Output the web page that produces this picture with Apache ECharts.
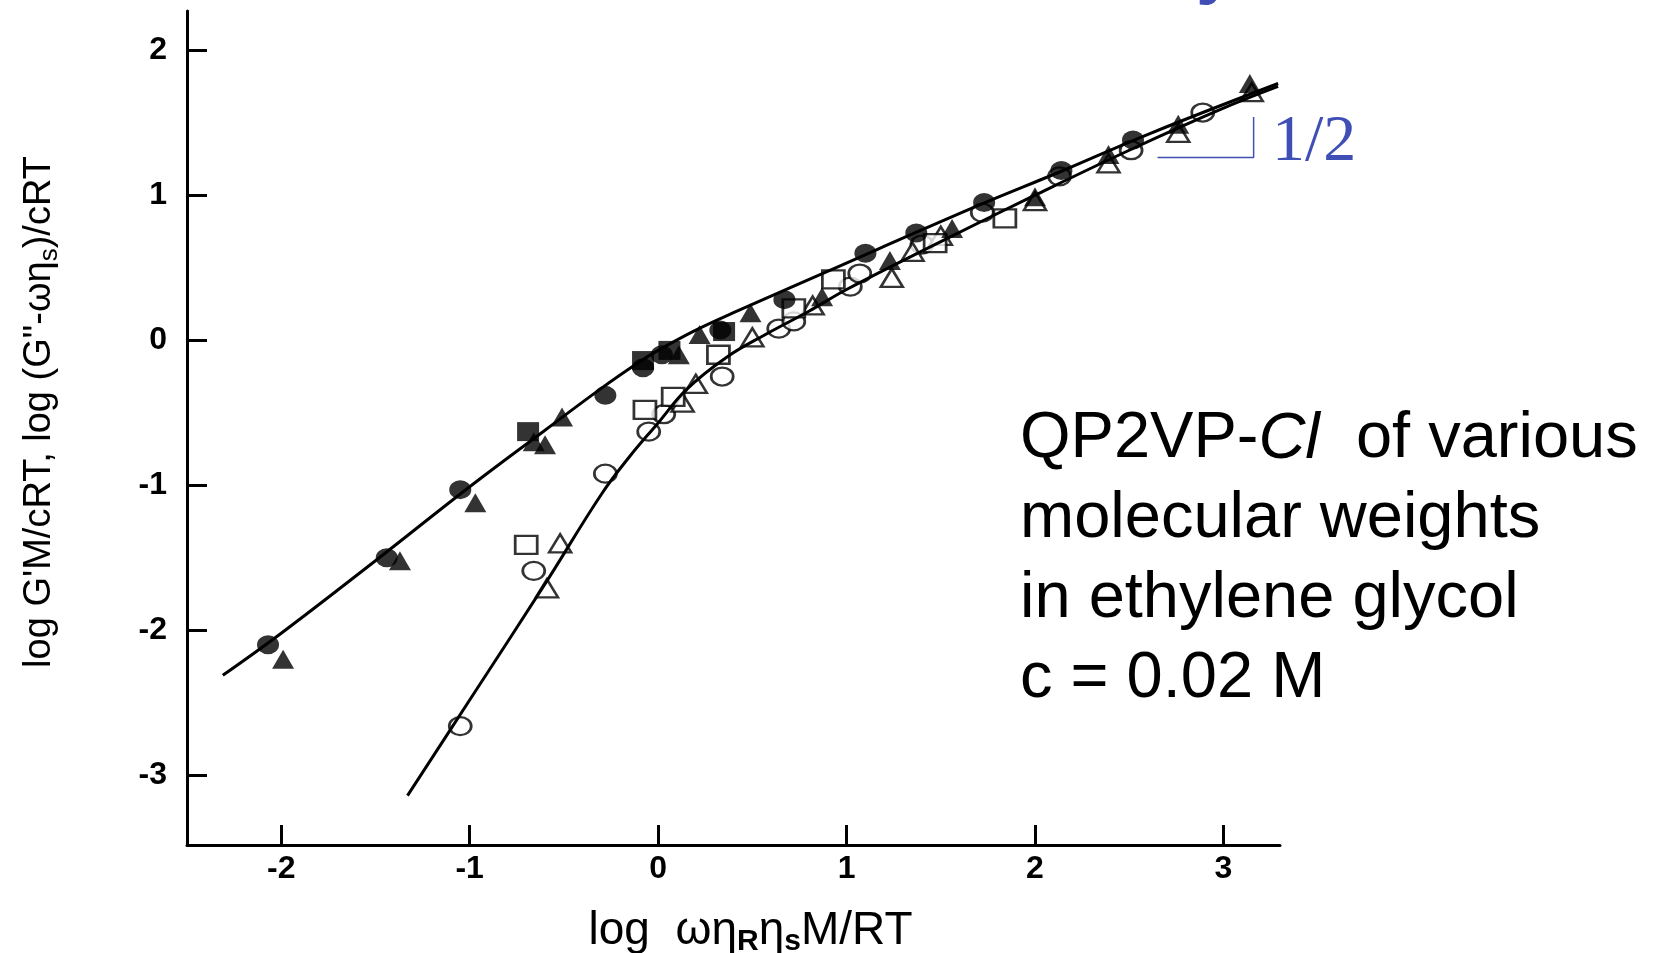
<!DOCTYPE html>
<html>
<head>
<meta charset="utf-8">
<script src="https://cdn.jsdelivr.net/npm/echarts@6.0.0/dist/echarts.min.js"></script>
<style>
  html, body { margin: 0; padding: 0; background: #fff; }
  #main { width: 1662px; height: 953px; }
</style>
</head>
<body>
<div id="main"></div>
<script>
// tick positions
var xTicks = [-2, -1, 0, 1, 2, 3];
var yTicks = [-3, -2, -1, 0, 1, 2];

// fitted curves: upper = G'' , lower = G'
var upperCurve = [[-2.31, -2.31], [-2.0, -2.02], [-1.5, -1.52], [-1.0, -1.01], [-0.6, -0.62], [-0.3, -0.33],
    [-0.1, -0.15], [0.0, -0.07], [0.2, 0.07], [0.4, 0.19], [0.75, 0.39], [1.17, 0.63], [1.7, 0.93],
    [2.13, 1.16], [2.6, 1.42], [3.29, 1.77]];
var lowerCurve = [[-1.33, -3.14], [-1.0, -2.48], [-0.6, -1.68], [-0.3, -1.06], [-0.15, -0.80], [0.0, -0.57],
    [0.15, -0.34], [0.36, -0.12], [0.57, 0.04], [0.8, 0.2], [1.0, 0.35], [1.5, 0.68], [2.0, 1.0],
    [2.5, 1.31], [3.0, 1.6], [3.29, 1.75]];

// measured points, filled = G'', open = G'
var filledCircles = [[-2.07, -2.10], [-1.44, -1.50], [-1.05, -1.03], [-0.28, -0.38], [-0.08, -0.19], [0.02, -0.10],
    [0.33, 0.07], [0.67, 0.28], [1.10, 0.60], [1.37, 0.74], [1.73, 0.95], [2.14, 1.17], [2.52, 1.38]];
var filledTriangles = [[-1.99, -2.20], [-1.37, -1.52], [-0.97, -1.12], [-0.66, -0.70], [-0.60, -0.72], [-0.51, -0.53],
    [0.11, -0.10], [0.22, 0.04], [0.49, 0.19], [0.87, 0.30], [1.23, 0.55], [1.56, 0.77], [2.00, 0.99],
    [2.39, 1.28], [2.76, 1.49], [3.14, 1.77]];
var filledSquares = [[-0.69, -0.63], [-0.08, -0.14], [0.06, -0.07], [0.35, 0.06]];
var openCircles = [[-1.05, -2.66], [-0.66, -1.59], [-0.28, -0.92], [-0.05, -0.63], [0.03, -0.51], [0.34, -0.25],
    [0.64, 0.08], [0.72, 0.13], [1.02, 0.37], [1.07, 0.46], [1.40, 0.66], [1.72, 0.88], [2.13, 1.13],
    [2.51, 1.31], [2.89, 1.57]];
var openTriangles = [[-0.59, -1.71], [-0.52, -1.40], [0.13, -0.43], [0.20, -0.30], [0.50, 0.02], [0.82, 0.24],
    [1.24, 0.43], [1.35, 0.61], [1.50, 0.72], [2.00, 0.96], [2.39, 1.22], [2.76, 1.43], [3.15, 1.71]];
var openSquares = [[-0.70, -1.41], [-0.07, -0.48], [0.08, -0.39], [0.32, -0.10], [0.72, 0.22], [0.93, 0.42],
    [1.47, 0.67], [1.84, 0.84]];

// slope 1/2 guide
var slopeGuide = [[2.65, 1.26], [3.16, 1.26], [3.16, 1.54]];

var BLUE = '#3f4fb5';

function filled(name, symbol, data) {
    return {
        name: name, type: 'scatter', symbol: symbol, symbolSize: [22, 19], data: data,
        itemStyle: { color: '#000' }, z: 2
    };
}
function open(name, symbol, data) {
    return {
        name: name, type: 'scatter', symbol: symbol, symbolSize: [22, 18], data: data,
        itemStyle: { color: '#fff', borderColor: '#000', borderWidth: 2.5 }, z: 2
    };
}
function curve(name, data) {
    return {
        name: name, type: 'line', data: data, showSymbol: false, smooth: 0.4,
        lineStyle: { color: '#000', width: 3 }, z: 3, silent: true
    };
}

var chart = echarts.init(document.getElementById('main'));
var option = {
    backgroundColor: '#fff',
    animation: false,
    grid: { left: 187, right: 382, top: 11, bottom: 108, outerBoundsMode: 'none', containLabel: false },
    xAxis: {
        type: 'value', min: -2.5, max: 3.3,
        axisLine: { onZero: false, lineStyle: { color: '#000', width: 3 } },
        axisTick: { inside: true, length: 20, customValues: xTicks, lineStyle: { color: '#000', width: 3 } },
        axisLabel: { customValues: xTicks, color: '#000', fontSize: 32, fontWeight: 'bold', margin: 8, fontFamily: 'Liberation Sans' },
        splitLine: { show: false },
        name: 'log  ωη{s|R}η{s|s}M/RT',
        nameLocation: 'middle', nameGap: 60,
        nameTextStyle: {
            color: '#000', fontSize: 46, fontFamily: 'Liberation Sans', lineHeight: 52, padding: [0, 0, 0, 34],
            rich: { s: { fontSize: 30, fontWeight: 'bold', verticalAlign: 'bottom', lineHeight: 52, fontFamily: 'Liberation Sans' } }
        }
    },
    yAxis: {
        type: 'value', min: -3.48, max: 2.27,
        axisLine: { onZero: false, lineStyle: { color: '#000', width: 3 } },
        axisTick: { inside: true, length: 20, customValues: yTicks, lineStyle: { color: '#000', width: 3 } },
        axisLabel: { customValues: yTicks, color: '#000', fontSize: 32, fontWeight: 'bold', margin: 20, fontFamily: 'Liberation Sans' },
        splitLine: { show: false },
        name: 'log G\'M/cRT, log (G"-ωη{s|s})/cRT',
        nameLocation: 'middle', nameGap: 124,
        nameTextStyle: {
            color: '#000', fontSize: 38, fontFamily: 'Liberation Sans', lineHeight: 46, padding: [0, 0, 0, 32],
            rich: { s: { fontSize: 26, verticalAlign: 'bottom', lineHeight: 46, fontFamily: 'Liberation Sans' } }
        }
    },
    series: [
        open('open circle', 'circle', openCircles),
        open('open triangle', 'triangle', openTriangles),
        open('open square', 'rect', openSquares),
        filled('filled circle', 'circle', filledCircles),
        filled('filled triangle', 'triangle', filledTriangles),
        filled('filled square', 'rect', filledSquares),
        curve('G\'\' fit', upperCurve),
        curve('G\' fit', lowerCurve),
        {
            name: 'slope', type: 'line', data: slopeGuide, showSymbol: false, silent: true,
            lineStyle: { color: BLUE, width: 1.5 }, z: 1
        }
    ],
    graphic: [
        {
            type: 'text', left: 1272, top: 110,
            style: { text: '1/2', fill: BLUE, font: '66px "Liberation Serif"' }
        },
        {
            type: 'text', left: 1020, top: 407,
            style: {
                text: '{n|QP2VP-}{i|Cl}{n|  of various}\n{n|molecular weights}\n{n|in ethylene glycol}\n{n|c = 0.02 M}',
                fill: '#000',
                rich: {
                    n: { fontSize: 65, fontFamily: 'Liberation Sans', lineHeight: 80, fill: '#000' },
                    i: { fontSize: 65, fontFamily: 'Liberation Sans', fontStyle: 'italic', lineHeight: 80, fill: '#000' }
                }
            }
        },
        {
            type: 'text', left: 1196, top: -66,
            style: { text: 'y', fill: BLUE, font: 'bold 72px "Liberation Sans"' }
        }
    ]
};
chart.setOption(option);
</script>
</body>
</html>
